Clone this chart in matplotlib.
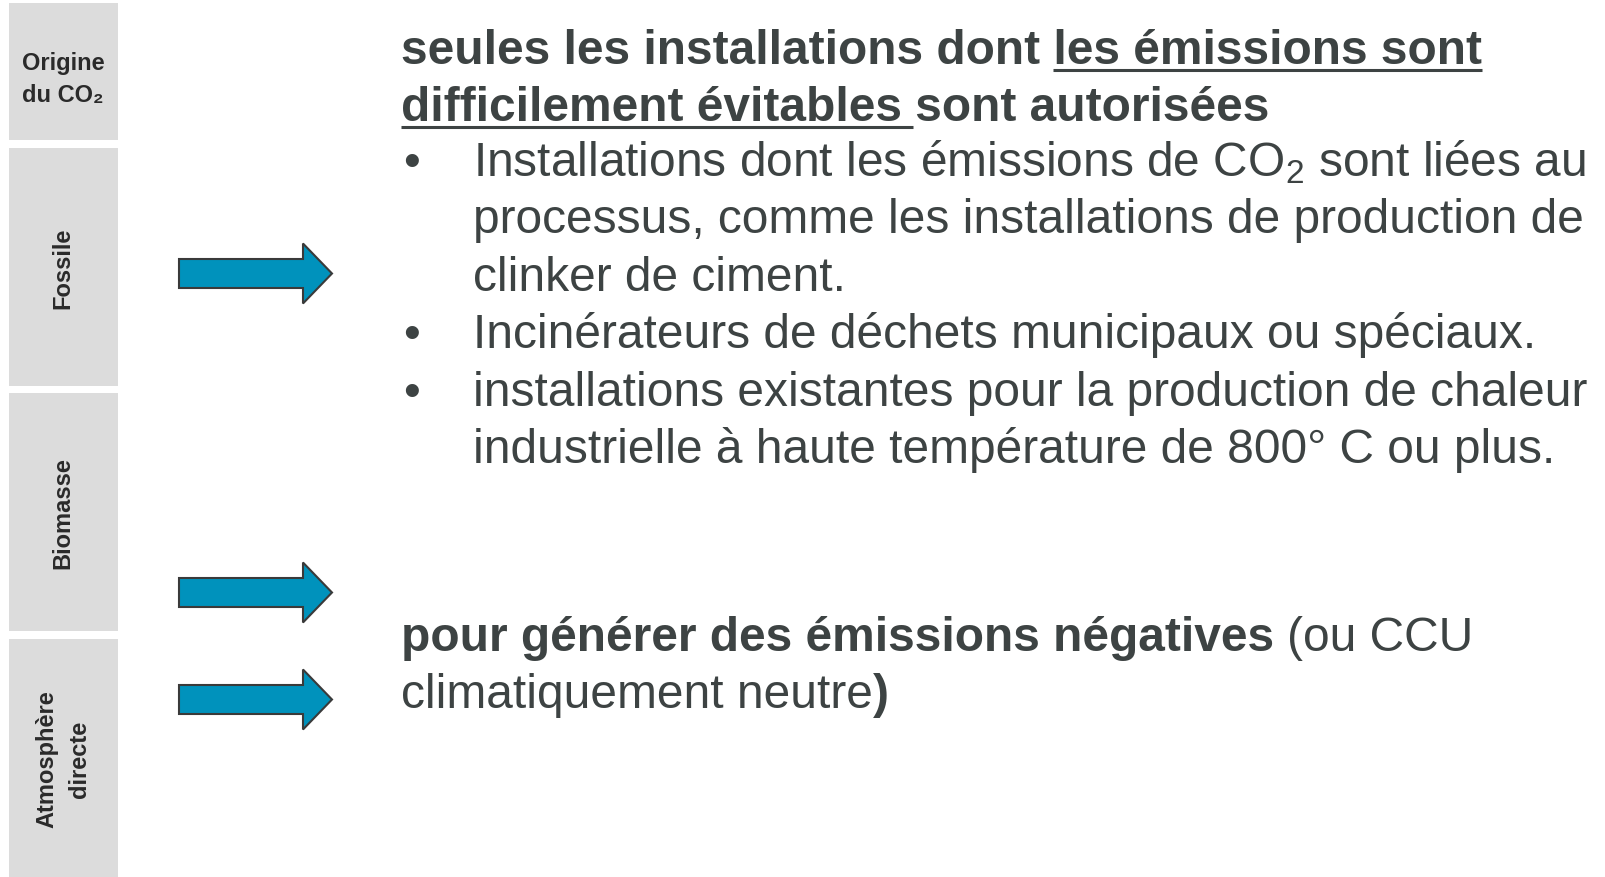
import matplotlib
matplotlib.use("Agg")
from matplotlib import pyplot as plt
from matplotlib.patches import FancyArrow, Rectangle

plt.rcParams['font.family'] = ['Liberation Sans', 'DejaVu Sans']
plt.rcParams['mathtext.fontset'] = 'custom'
plt.rcParams['mathtext.rm'] = 'Liberation Sans'

# left column: origin of the CO2
origins = ["Origine\ndu CO₂", "Fossile", "Biomasse", "Atmosphère\ndirecte"]
# rows that get an arrow
arrow_rows = ["Fossile", "Biomasse", "Atmosphère\ndirecte"]

heading_lines = ["seules les installations dont les émissions sont",
                 "difficilement évitables sont autorisées"]
bullet_items = [
    ["Installations dont les émissions de CO$_2$ sont liées au",
     "processus, comme les installations de production de",
     "clinker de ciment."],
    ["Incinérateurs de déchets municipaux ou spéciaux."],
    ["installations existantes pour la production de chaleur",
     "industrielle à haute température de 800° C ou plus."],
]
# (bold part, regular part, bold part) per line
negative_lines = [
    ("pour générer des émissions négatives", "(ou CCU", ""),
    ("", "climatiquement neutre", ")"),
]

TEXT = '#3d4343'
BOX = '#dcdcdc'
ARROW = '#0092bc'
FS = 34.5


def text_width(s, **kw):
    t = ax.text(0, 0, s, fontsize=FS, **kw)
    w = t.get_window_extent(renderer).width
    t.remove()
    return w


def underline(x0, x1, y):
    ax.plot([x0, x1], [y, y], color=TEXT, lw=2.2, solid_capstyle='butt')


fig = plt.figure(figsize=(16.06, 8.78), dpi=100)
ax = fig.add_axes([0, 0, 1, 1])
ax.set_xlim(0, 1606)
ax.set_ylim(878, 0)
ax.axis('off')
renderer = fig.canvas.get_renderer()

# grey boxes on the left
box_spans = [(4, 141), (149, 387), (394, 632), (640, 878)]
for label, (top, bottom) in zip(origins, box_spans):
    ax.add_patch(Rectangle((9, top), 109, bottom - top, color=BOX, lw=0))
    rot = 0 if label.startswith("Origine") else 90
    ax.text(63, (top + bottom) / 2 + (7 if rot == 0 else 0), label,
            rotation=rot, ha='center', va='center', fontsize=17,
            fontweight='bold', color='#2a2a2a', multialignment='center',
            linespacing=1.55)

# blue arrows
arrow_y = {"Fossile": 274.5, "Biomasse": 593.5, "Atmosphère\ndirecte": 700.5}
for row in arrow_rows:
    ax.add_patch(FancyArrow(179, arrow_y[row], 153, 0, width=29,
                            head_width=60, head_length=29,
                            length_includes_head=True, facecolor=ARROW,
                            edgecolor='#3a3a3a', lw=1.5))

# heading with underlined parts
x0 = 401
step = 57.4
y = 64
for line in heading_lines:
    ax.text(x0, y, line, fontsize=FS, fontweight='bold', color=TEXT,
            va='baseline')
    y += step
full1 = text_width(heading_lines[0], fontweight='bold')
part1 = text_width("les émissions sont", fontweight='bold')
underline(x0 + full1 - part1, x0 + full1, 70.5)
full2 = text_width(heading_lines[1], fontweight='bold')
part2 = text_width("sont autorisées", fontweight='bold')
underline(x0, x0 + full2 - part2 - 2, 127.5)

# bullet list
y = 176
for item in bullet_items:
    ax.text(403, y, "•", fontsize=FS, color=TEXT, va='baseline')
    for line in item:
        ax.text(473, y, line, fontsize=FS, color=TEXT, va='baseline')
        y += step

# negative emissions text, mixed bold / regular
y = 651
space = text_width("l l") - text_width("ll")
for parts in negative_lines:
    x = x0
    for i, seg in enumerate(parts):
        if not seg:
            continue
        weight = 'bold' if i != 1 else 'normal'
        ax.text(x, y, seg, fontsize=FS, fontweight=weight, color=TEXT,
                va='baseline')
        w = text_width(seg + "l", fontweight=weight) - text_width("l", fontweight=weight)
        x += w
        if i == 0:
            x += space
    y += step

fig.savefig("out.png", dpi=100, facecolor='white')
